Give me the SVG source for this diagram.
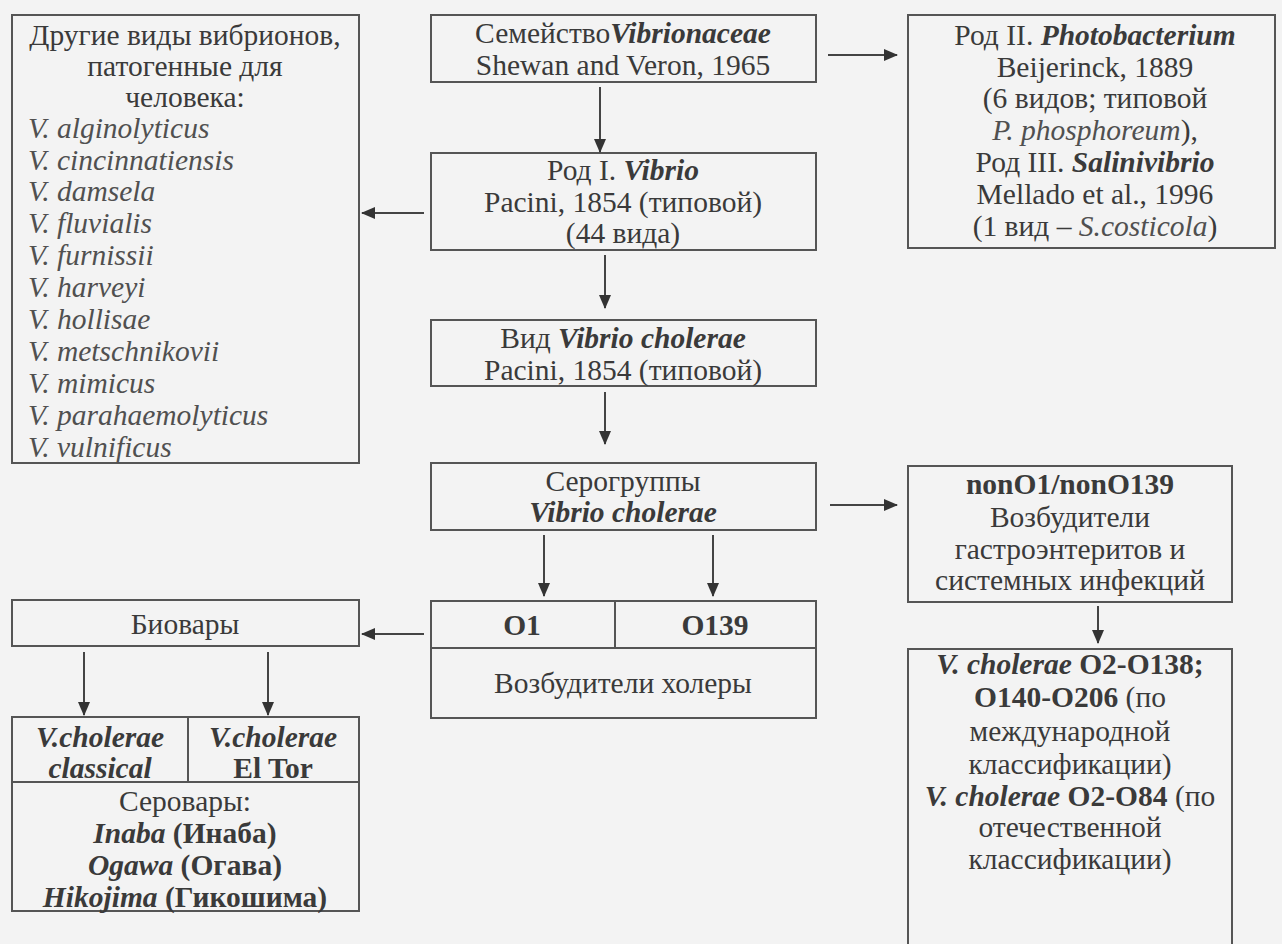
<svg xmlns="http://www.w3.org/2000/svg" width="1282" height="944" viewBox="0 0 1282 944">
<style>
text{font-family:"Liberation Serif","DejaVu Serif",serif;font-size:29.5px;fill:#3a3a3a;dominant-baseline:central}
.c{text-anchor:middle}
.i{font-style:italic;fill:#505050}
.b{font-weight:bold}
.bi{font-weight:bold;font-style:italic}
.box{fill:none;stroke:#555;stroke-width:2}
.ln{stroke:#444;stroke-width:2;fill:none}
</style>
<defs>
<marker id="ah" markerWidth="14" markerHeight="12" refX="13" refY="6" orient="auto" markerUnits="userSpaceOnUse">
<path d="M0,0 L14,6 L0,12 Z" fill="#333"/>
</marker>
</defs>
<rect width="1282" height="944" fill="#f3f3f3"/>

<g id="other-vibrios">
<rect class="box" x="12" y="15" width="347" height="448"/>
<text class="c" x="185" y="35">Другие виды вибрионов,</text>
<text class="c" x="185" y="66">патогенные для</text>
<text class="c" x="185" y="97">человека:</text>
<text class="i" x="28" y="128">V. alginolyticus</text>
<text class="i" x="28" y="160">V. cincinnatiensis</text>
<text class="i" x="28" y="191">V. damsela</text>
<text class="i" x="28" y="223">V. fluvialis</text>
<text class="i" x="28" y="255">V. furnissii</text>
<text class="i" x="28" y="287">V. harveyi</text>
<text class="i" x="28" y="319">V. hollisae</text>
<text class="i" x="28" y="351">V. metschnikovii</text>
<text class="i" x="28" y="383">V. mimicus</text>
<text class="i" x="28" y="415">V. parahaemolyticus</text>
<text class="i" x="28" y="447">V. vulnificus</text>
</g>

<g id="family">
<rect class="box" x="431" y="15" width="385" height="67"/>
<text class="c" x="623" y="33">Семейство<tspan class="bi">Vibrionaceae</tspan></text>
<text class="c" x="623" y="65">Shewan and Veron, 1965</text>
</g>

<g id="other-genera">
<rect class="box" x="908" y="15" width="367" height="233"/>
<text class="c" x="1095" y="35">Род II. <tspan class="bi">Photobacterium</tspan></text>
<text class="c" x="1095" y="67">Beijerinck, 1889</text>
<text class="c" x="1095" y="98">(6 видов; типовой</text>
<text class="c" x="1095" y="130"><tspan class="i">P. phosphoreum</tspan>),</text>
<text class="c" x="1095" y="162">Род III. <tspan class="bi">Salinivibrio</tspan></text>
<text class="c" x="1095" y="194">Mellado et al., 1996</text>
<text class="c" x="1095" y="226">(1 вид – <tspan class="i">S.costicola</tspan>)</text>
</g>

<g id="genus-vibrio">
<rect class="box" x="431" y="153" width="385" height="97"/>
<text class="c" x="623" y="170">Род I. <tspan class="bi">Vibrio</tspan></text>
<text class="c" x="623" y="202">Pacini, 1854 (типовой)</text>
<text class="c" x="623" y="233">(44 вида)</text>
</g>

<g id="species">
<rect class="box" x="431" y="320" width="385" height="66"/>
<text class="c" x="623" y="338">Вид <tspan class="bi">Vibrio cholerae</tspan></text>
<text class="c" x="623" y="370">Pacini, 1854 (типовой)</text>
</g>

<g id="serogroups">
<rect class="box" x="431" y="463" width="385" height="67"/>
<text class="c" x="623" y="481">Серогруппы</text>
<text class="c bi" x="623" y="512">Vibrio cholerae</text>
</g>

<g id="cholera-agents">
<rect class="box" x="431" y="601" width="385" height="117"/>
<line class="box" x1="431" y1="648" x2="816" y2="648"/>
<line class="box" x1="615" y1="601" x2="615" y2="648"/>
<text class="c b" x="522" y="625">O1</text>
<text class="c b" x="715" y="625">O139</text>
<text class="c" x="623" y="683">Возбудители холеры</text>
</g>

<g id="non-o1">
<rect class="box" x="908" y="466" width="324" height="136"/>
<text class="c b" x="1070" y="484">nonO1/nonO139</text>
<text class="c" x="1070" y="517">Возбудители</text>
<text class="c" x="1070" y="549">гастроэнтеритов и</text>
<text class="c" x="1070" y="580">системных инфекций</text>
</g>

<g id="non-o1-serogroups">
<rect class="box" x="908" y="649" width="324" height="310"/>
<text class="c" x="1070" y="664"><tspan class="bi">V. cholerae</tspan><tspan class="b"> O2-O138;</tspan></text>
<text class="c" x="1070" y="697"><tspan class="b">O140-O206</tspan> (по</text>
<text class="c" x="1070" y="731">международной</text>
<text class="c" x="1070" y="764">классификации)</text>
<text class="c" x="1070" y="796"><tspan class="bi">V. cholerae</tspan><tspan class="b"> O2-O84</tspan> (по</text>
<text class="c" x="1070" y="827">отечественной</text>
<text class="c" x="1070" y="859">классификации)</text>
</g>

<g id="biovars">
<rect class="box" x="12" y="600" width="347" height="46"/>
<text class="c" x="185" y="624">Биовары</text>
</g>

<g id="biovar-serovars">
<rect class="box" x="12" y="717" width="347" height="194"/>
<line class="box" x1="12" y1="782" x2="359" y2="782"/>
<line class="box" x1="188" y1="717" x2="188" y2="782"/>
<text class="c bi" x="100" y="737">V.cholerae</text>
<text class="c bi" x="100" y="768">classical</text>
<text class="c bi" x="273" y="737">V.cholerae</text>
<text class="c b" x="273" y="768">El Tor</text>
<text class="c" x="185" y="801">Серовары:</text>
<text class="c" x="185" y="833"><tspan class="bi">Inaba</tspan><tspan class="b"> (Инаба)</tspan></text>
<text class="c" x="185" y="865"><tspan class="bi">Ogawa</tspan><tspan class="b"> (Огава)</tspan></text>
<text class="c" x="185" y="897"><tspan class="bi">Hikojima</tspan><tspan class="b"> (Гикошима)</tspan></text>
</g>

<g id="connectors">
<line class="ln" x1="828" y1="55" x2="897" y2="55" marker-end="url(#ah)"/>
<line class="ln" x1="600" y1="87" x2="600" y2="152" marker-end="url(#ah)"/>
<line class="ln" x1="424" y1="213" x2="362" y2="213" marker-end="url(#ah)"/>
<line class="ln" x1="605" y1="255" x2="605" y2="308" marker-end="url(#ah)"/>
<line class="ln" x1="605" y1="392" x2="605" y2="444" marker-end="url(#ah)"/>
<line class="ln" x1="830" y1="505" x2="897" y2="505" marker-end="url(#ah)"/>
<line class="ln" x1="544" y1="535" x2="544" y2="596" marker-end="url(#ah)"/>
<line class="ln" x1="713" y1="535" x2="713" y2="596" marker-end="url(#ah)"/>
<line class="ln" x1="1098" y1="606" x2="1098" y2="643" marker-end="url(#ah)"/>
<line class="ln" x1="424" y1="634" x2="362" y2="634" marker-end="url(#ah)"/>
<line class="ln" x1="84" y1="652" x2="84" y2="715" marker-end="url(#ah)"/>
<line class="ln" x1="268" y1="652" x2="268" y2="715" marker-end="url(#ah)"/>
</g>
</svg>
